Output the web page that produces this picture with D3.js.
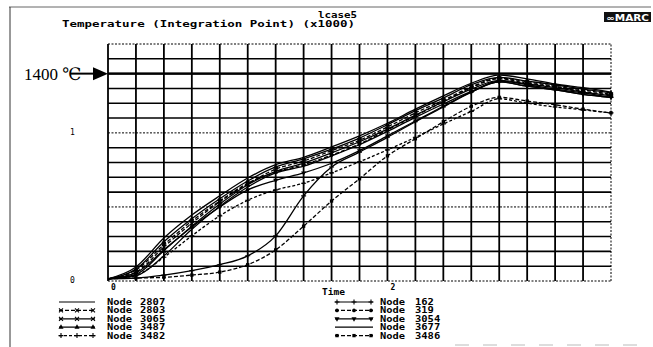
<!DOCTYPE html>
<html>
<head>
<meta charset="utf-8">
<script src="https://cdn.jsdelivr.net/npm/d3@7"></script>
<style>
body { margin:0; background:#fff; }
svg { display:block; }
</style>
</head>
<body>
<div id="graph"></div>
<script>
// time axis sample points (MARC plot, time units)
var times = [0,0.2,0.4,0.6,0.8,1.0,1.2,1.4,1.6,1.8,2.0,2.2,2.4,2.6,2.8,3.0,3.2,3.4,3.6];

// temperatures at integration points, deg C
var node2807 = [15,95,290,445,575,695,785,835,905,980,1065,1160,1250,1335,1390,1365,1330,1305,1275];
var node2803 = [15,60,230,390,535,655,755,810,880,950,1040,1135,1220,1310,1370,1345,1315,1290,1260];
var node3065 = [15,45,205,370,520,650,740,795,865,940,1025,1120,1210,1295,1355,1330,1305,1275,1250];
var node3487 = [15,80,265,420,555,675,770,825,890,965,1055,1150,1235,1325,1375,1350,1325,1295,1270];
var node3482 = [15,40,160,305,440,545,615,660,730,805,885,970,1060,1145,1230,1200,1175,1155,1135];
var node162  = [15,20,40,70,110,170,305,575,770,870,970,1075,1175,1275,1350,1325,1295,1270,1240];
var node319  = [15,75,245,405,540,660,735,785,850,925,1020,1115,1210,1305,1365,1335,1310,1280,1255];
var node3054 = [15,55,210,365,500,615,680,730,795,880,980,1080,1180,1275,1345,1315,1290,1260,1240];
var node3677 = [15,35,170,350,505,635,730,775,845,920,1010,1105,1195,1280,1345,1315,1290,1260,1240];
var node3486 = [15,20,25,40,60,110,210,370,540,690,845,960,1075,1180,1240,1215,1190,1160,1135];

var leftNames  = ["2807","2803","3065","3487","3482"];
var rightNames = ["162","319","3054","3677","3486"];
var seriesValues = {
  "2807": node2807, "2803": node2803, "3065": node3065, "3487": node3487, "3482": node3482,
  "162": node162, "319": node319, "3054": node3054, "3677": node3677, "3486": node3486
};

var xTicks = [0, 2];
var yTicks = [0, 1000];
var markTemp = 1400;

// line style per node (legend look)
var look = {
  "2807": {dash:null,  mark:null},
  "2803": {dash:"4,2", mark:"times"},
  "3065": {dash:null,  mark:"times"},
  "3487": {dash:null,  mark:"triangle"},
  "3482": {dash:"3,2", mark:"cross"},
  "162":  {dash:null,  mark:"cross"},
  "319":  {dash:"4,2", mark:"circle"},
  "3054": {dash:null,  mark:"vee"},
  "3677": {dash:null,  mark:null},
  "3486": {dash:"4,2", mark:"square"}
};

var w = 653, h = 347;
var svg = d3.select("#graph").append("svg")
  .attr("width", w).attr("height", h)
  .style("font-family", "'DejaVu Sans Mono', monospace");

var x = d3.scaleLinear().domain([0, 3.6]).range([108, 611]);
var y = d3.scaleLinear().domain([0, 1600]).range([281, 44]);

// outer frame bits from the scan
svg.append("line").attr("x1", 9).attr("x2", 651).attr("y1", 7).attr("y2", 7)
  .attr("stroke", "#666").attr("stroke-width", 1);
svg.append("line").attr("x1", 10).attr("x2", 10).attr("y1", 7).attr("y2", 347)
  .attr("stroke", "#333").attr("stroke-width", 1);
svg.append("line").attr("x1", 455).attr("x2", 651).attr("y1", 345).attr("y2", 345)
  .attr("stroke", "#bbb").attr("stroke-width", 1).attr("stroke-dasharray", "14,14");

// title
svg.append("text").attr("x", 318).attr("y", 18).text("lcase5")
  .attr("font-size", 8).attr("font-weight", "bold").attr("textLength", 39).attr("lengthAdjust", "spacingAndGlyphs");
svg.append("text").attr("x", 62).attr("y", 27).text("Temperature (Integration Point) (x1000)")
  .attr("font-size", 9).attr("font-weight", "bold").attr("textLength", 293).attr("lengthAdjust", "spacingAndGlyphs");

// MARC logo
svg.append("rect").attr("x", 604).attr("y", 12).attr("width", 47).attr("height", 10).attr("fill", "#111");
svg.append("text").attr("x", 606).attr("y", 20.5).text("\u221EMARC").attr("fill", "#fff")
  .attr("font-family", "'DejaVu Sans', sans-serif").attr("font-weight", "bold").attr("font-size", 8)
  .attr("textLength", 43).attr("lengthAdjust", "spacingAndGlyphs");

// grid
var grid = svg.append("g");
var xGrid = d3.range(0, 3.601, 0.2);
var yGrid = d3.range(0, 1601, 100);
var dottedRows = [0, 500, 1000, 1600];

grid.selectAll("line.h").data(yGrid).enter().append("line")
  .attr("x1", x(0)).attr("x2", x(3.6))
  .attr("y1", function(d){ return y(d); })
  .attr("y2", function(d){ return y(d); })
  .attr("stroke", "#000")
  .attr("stroke-width", function(d){ return dottedRows.indexOf(d) >= 0 ? 1 : 1.6; })
  .attr("stroke-dasharray", function(d){ return dottedRows.indexOf(d) >= 0 ? "2,1.5" : null; });

grid.selectAll("line.v").data(xGrid).enter().append("line")
  .attr("x1", function(d){ return x(d); })
  .attr("x2", function(d){ return x(d); })
  .attr("y1", y(0)).attr("y2", y(1600))
  .attr("stroke", "#000")
  .attr("stroke-width", function(d, i){ return i == xGrid.length - 1 ? 1 : 1.8; })
  .attr("stroke-dasharray", function(d, i){ return i == xGrid.length - 1 ? "2,1.5" : null; });

// 1400 line + arrow
grid.append("line").attr("x1", x(0)).attr("x2", x(3.6))
  .attr("y1", y(markTemp)).attr("y2", y(markTemp))
  .attr("stroke", "#000").attr("stroke-width", 2.4);
svg.append("line").attr("x1", 70).attr("x2", 96).attr("y1", y(markTemp)).attr("y2", y(markTemp))
  .attr("stroke", "#000").attr("stroke-width", 2);
svg.append("path")
  .attr("d", "M" + x(0) + "," + y(markTemp) + "L93," + (y(markTemp) - 6.5) + "L93," + (y(markTemp) + 6.5) + "Z")
  .attr("fill", "#000");
svg.append("text").attr("x", 24).attr("y", y(markTemp) + 6).text("1400 \u2103")
  .attr("font-family", "'Liberation Serif', 'DejaVu Serif', serif").attr("font-size", 17);

// tick labels
svg.selectAll("text.xt").data(xTicks).enter().append("text")
  .attr("x", function(d){ return x(d) + 3; }).attr("y", 290)
  .attr("font-size", 8).attr("font-weight", "bold")
  .text(function(d){ return d; });
svg.selectAll("text.yt").data(yTicks).enter().append("text")
  .attr("x", 70).attr("y", function(d){ return y(d) + 2; })
  .attr("font-size", 8)
  .text(function(d){ return d / 1000; });
svg.append("text").attr("x", 322).attr("y", 295).text("Time")
  .attr("font-size", 8).attr("font-weight", "bold").attr("textLength", 23).attr("lengthAdjust", "spacingAndGlyphs");

// markers
function marker(g, type, cx, cy) {
  if (!type) return;
  var tr = "translate(" + cx + "," + cy + ")";
  if (type == "cross" || type == "times") {
    g.append("path")
      .attr("d", type == "cross" ? "M-2.5,0H2.5M0,-2.5V2.5" : "M-2,-2L2,2M-2,2L2,-2")
      .attr("transform", tr)
      .attr("fill", "none").attr("stroke", "#000").attr("stroke-width", 1.1);
    return;
  }
  var sym = {"circle": d3.symbolCircle, "square": d3.symbolSquare,
             "triangle": d3.symbolTriangle, "vee": d3.symbolTriangle}[type];
  g.append("path")
    .attr("d", d3.symbol().type(sym).size(11)())
    .attr("transform", tr + (type == "vee" ? " rotate(180)" : ""))
    .attr("fill", "#000");
}

// curves
var line = d3.line()
  .x(function(d){ return x(d[0]); })
  .y(function(d){ return y(d[1]); })
  .curve(d3.curveMonotoneX);

var allNames = leftNames.concat(rightNames);
var curves = svg.append("g");
allNames.forEach(function(name) {
  var pts = times.map(function(t, i){ return [t, seriesValues[name][i]]; });
  curves.append("path").datum(pts)
    .attr("d", line)
    .attr("fill", "none").attr("stroke", "#000").attr("stroke-width", 1.3)
    .attr("stroke-dasharray", look[name].dash);
  var mg = curves.append("g");
  pts.forEach(function(p, i){ if (i > 0) marker(mg, look[name].mark, x(p[0]), y(p[1])); });
});

// legend
function legendCol(names, x0, x1, xt, xn) {
  names.forEach(function(name, i) {
    var yy = 302 + i * 8.4;
    var g = svg.append("g");
    g.append("line").attr("x1", x0).attr("x2", x1).attr("y1", yy).attr("y2", yy)
      .attr("stroke", "#000").attr("stroke-width", 1.2).attr("stroke-dasharray", look[name].dash);
    marker(g, look[name].mark, x0 + 2, yy);
    marker(g, look[name].mark, (x0 + x1) / 2, yy);
    marker(g, look[name].mark, x1 - 2, yy);
    g.append("text").attr("x", xt).attr("y", yy + 3).text("Node")
      .attr("font-size", 8).attr("font-weight", "bold").attr("textLength", 25).attr("lengthAdjust", "spacingAndGlyphs");
    g.append("text").attr("x", xn).attr("y", yy + 3).text(name)
      .attr("font-size", 8).attr("font-weight", "bold")
      .attr("textLength", name.length * 6.3).attr("lengthAdjust", "spacingAndGlyphs");
  });
}
legendCol(leftNames, 59, 95, 107, 140);
legendCol(rightNames, 335, 373, 380, 415);
</script>
</body>
</html>
